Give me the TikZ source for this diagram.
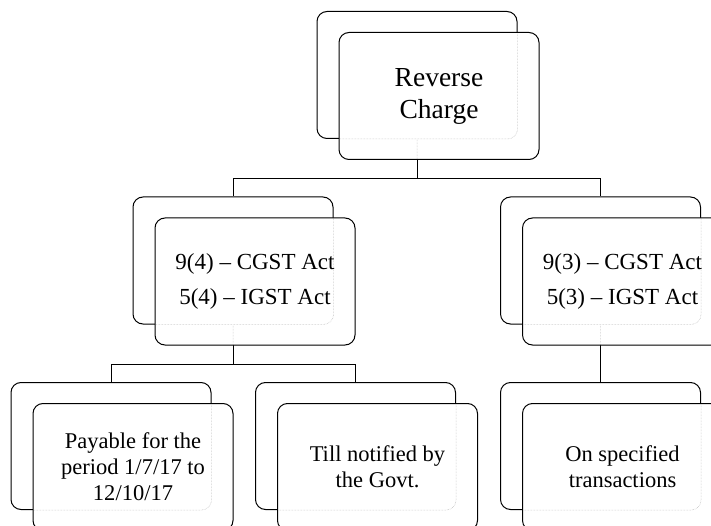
\documentclass[tikz,border=0pt]{standalone}
\usepackage{fontspec}
\setmainfont{Liberation Serif}

\begin{document}
\begin{tikzpicture}[x=1pt,y=-1pt,-,line width=1pt,
  back/.style={draw,rounded corners=10pt,minimum width=200pt,minimum height=127pt,inner sep=0pt},
  front/.style={back,fill=white,align=center,font=\fontsize{22.5}{26}\selectfont},
  seen/.style={densely dotted,gray!55,line width=0.5pt,rounded corners=10pt}]

            \path[use as bounding box,clip] (0,0) rectangle (711,526);

            \node[back] (1) at (417,75) {};
            \node[back] (2) at (233,260.5) {};
            \node[back] (3) at (600.5,260.5) {};
            \node[back] (4) at (111,446) {};
            \node[back] (5) at (355.5,446) {};
            \node[back] (6) at (600.5,446) {};

            \draw (1.south) -- ++(0,40) -| (2.north);
            \draw (1.south) -- ++(0,40) -| (3.north);
            \draw (2.south) -- ++(0,40) -| (4.north);
            \draw (2.south) -- ++(0,40) -| (5.north);
            \draw (3.south) -- (6.north);

            \node[front,font=\fontsize{27.5}{32}\selectfont,
                  path picture={\draw[seen] (1.south west) rectangle (1.north east) (1.south) -- ++(0,40);}]
                  (1f) at ([shift={(22,21)}]1.center) {Reverse\\Charge};
            \node[front,font=\fontsize{23}{35}\selectfont,
                  path picture={\draw[seen] (2.south west) rectangle (2.north east) (2.south) -- ++(0,40);}]
                  (2f) at ([shift={(22,21)}]2.center) {9(4) -- CGST Act\\5(4) -- IGST Act};
            \node[front,font=\fontsize{23}{35}\selectfont,
                  path picture={\draw[seen] (3.south west) rectangle (3.north east) (3.south) -- ++(0,40);}]
                  (3f) at ([shift={(22,21)}]3.center) {9(3) -- CGST Act\\5(3) -- IGST Act};
            \node[front,path picture={\draw[seen] (4.south west) rectangle (4.north east);}]
                  (4f) at ([shift={(22,21)}]4.center) {Payable for the\\period 1/7/17 to\\12/10/17};
            \node[front,path picture={\draw[seen] (5.south west) rectangle (5.north east);}]
                  (5f) at ([shift={(22,21)}]5.center) {Till notified by\\the Govt.};
            \node[front,path picture={\draw[seen] (6.south west) rectangle (6.north east);}]
                  (6f) at ([shift={(22,21)}]6.center) {On specified\\transactions};

            ;
        \end{tikzpicture}
\end{document}
